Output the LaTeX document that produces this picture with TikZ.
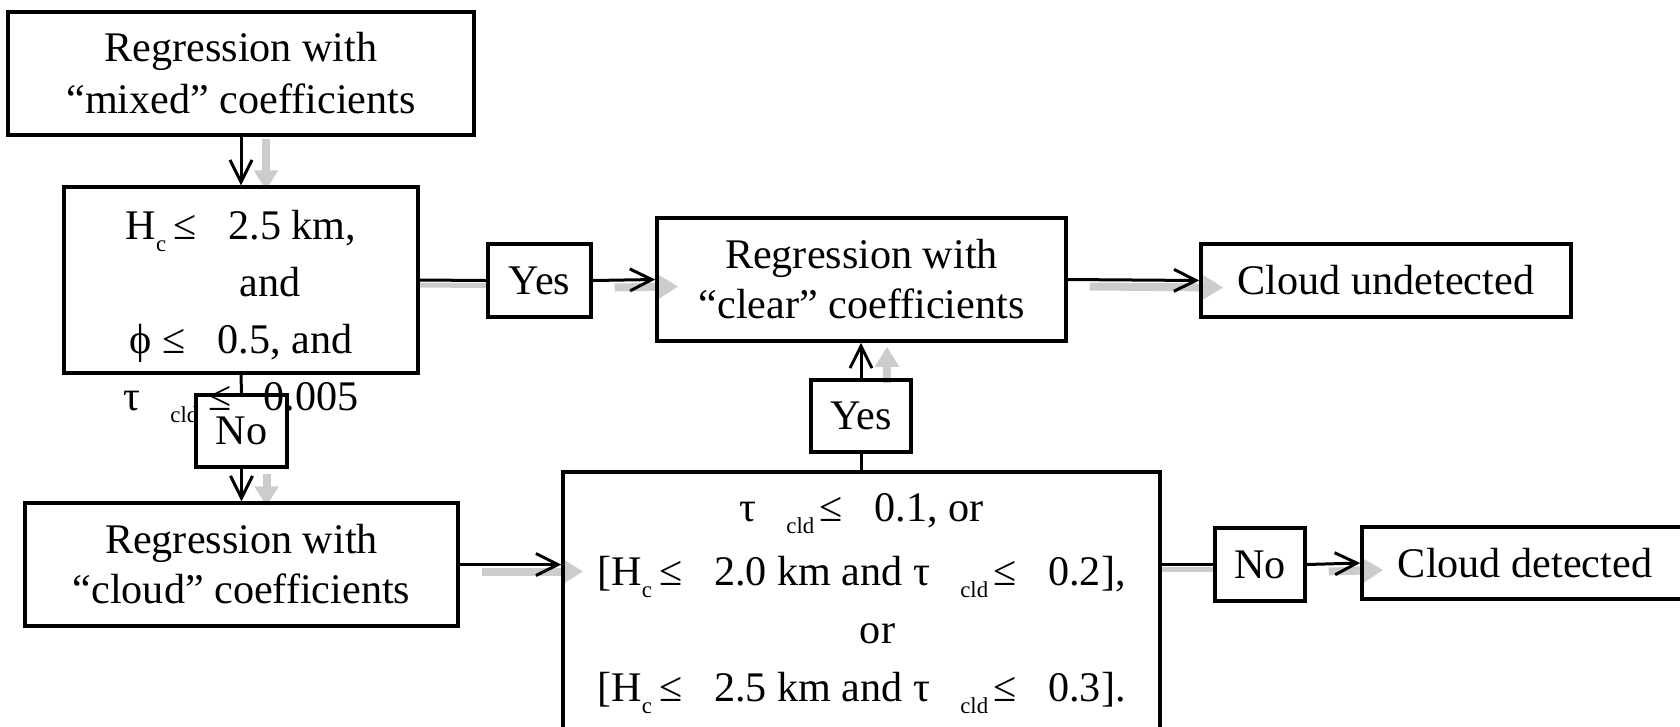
\documentclass[tikz,border=0pt]{standalone}
\usepackage{fontspec}
\setmainfont{Liberation Serif}
\usetikzlibrary{positioning,arrows.meta,backgrounds}
\definecolor{shade}{RGB}{204,204,204}
\newcommand{\lsub}[1]{\raisebox{-1.2mm}{\fontsize{6.5}{6.5}\selectfont #1}}
\newcommand{\lgap}{\hspace{3.2mm}}
\tikzset{
  box/.style={draw=black, line width=0.35mm, inner sep=0pt, align=center,
              font=\fontsize{12}{14.8}\selectfont},
  txt/.style={inner sep=0pt, align=center},
  flow/.style={-{Straight Barb[length=2.2mm,width=2.2mm]}, line width=0.3mm},
  link/.style={line width=0.3mm},
  ghost/.style={draw=shade, line width=0.8mm, -{Triangle[length=2mm,width=2.3mm]}},
  ghostline/.style={draw=shade, line width=0.5mm},
}

\begin{document}
\begin{tikzpicture}[x=0.1mm, y=-0.1mm]
\useasboundingbox (0,0) rectangle (1680,726);
\clip (0,0) rectangle (1680,726);

% left column
\node[box, minimum width=46.6mm, minimum height=12.3mm] (mixed) at (241,73.5)
  {Regression with\\ “mixed” coefficients};
\node[box, minimum width=35.4mm, minimum height=18.6mm] (cond1) at (241,280) {};
\node[txt, font=\fontsize{12}{16.2}\selectfont] (cond1txt) at (241,316.5)
  {H\lsub{c}\,≤\lgap 2.5 km,\\
   \hspace*{5.8mm}and\\
   ϕ ≤\lgap 0.5, and\\
   τ\hspace{3mm}\lsub{cld}\hspace{1mm}≤\lgap 0.005};
\node[box, minimum width=9.1mm, minimum height=7.2mm] (noA) at (241.5,431) {No};
\node[box, minimum width=43.3mm, minimum height=12.3mm,
      font=\fontsize{12}{14.2}\selectfont] (cloudreg) at (241.5,564.5)
  {Regression with\\ “cloud” coefficients};

% middle
\node[box, minimum width=10.3mm, minimum height=7.3mm] (yesA) at (539.5,280.5) {Yes};
\node[box, minimum width=40.9mm, minimum height=12.3mm,
      font=\fontsize{12}{14.2}\selectfont] (clearreg) at (861.5,279.5)
  {Regression with\\ “clear” coefficients};
\node[box, minimum width=10mm, minimum height=7.2mm] (yesB) at (861,416) {Yes};
\node[box, minimum width=59.7mm, minimum height=26.4mm,
      font=\fontsize{12}{16.5}\selectfont] (cond3) at (861.5,604)
  {τ\hspace{3mm}\lsub{cld}\hspace{0.5mm}≤\lgap 0.1, or\\[0.6mm]
   {[}H\lsub{c}\,≤\lgap 2.0 km and τ\hspace{3mm}\lsub{cld}\hspace{0.5mm}≤\lgap 0.2],\\
   \hspace*{3.2mm}or\\
   {[}H\lsub{c}\,≤\lgap 2.5 km and τ\hspace{3mm}\lsub{cld}\hspace{0.5mm}≤\lgap 0.3].};

% right column
\node[box, minimum width=37mm, minimum height=7.3mm] (undet) at (1386,280.5) {Cloud undetected};
\node[box, minimum width=9mm, minimum height=7.3mm] (noB) at (1260,564.5) {No};
\node[box, minimum width=32.6mm, minimum height=7.2mm] (det) at (1525,563) {Cloud detected};

% connectors
\draw[flow] (mixed.south) -- (cond1.north);
\draw[link] (cond1.south) -- (noA.north);
\draw[flow] (noA.south) -- (cloudreg.north);
\draw[link] (cond1.east) -- (yesA.west);
\draw[flow] (yesA.east) -- (clearreg.west);
\draw[flow] (clearreg.east) -- (undet.west);
\draw[link] (yesB.south) -- (yesB.south |- cond3.north);
\draw[flow] (yesB.north) -- (yesB.north |- clearreg.south);
\draw[flow] (cloudreg.east) -- (cloudreg.east -| cond3.west);
\draw[link] (cond3.east |- noB.west) -- (noB.west);
\draw[flow] (noB.east) -- (det.west);

% grey shadows
\begin{scope}[on background layer]
  \draw[ghost] ([xshift=2.5mm,yshift=-0.2mm]mixed.south) -- ([xshift=2.5mm,yshift=-0.5mm]cond1.north);
  \draw[ghost] ([xshift=2.5mm,yshift=-0.5mm]noA.south) -- ([xshift=2.5mm,yshift=-0.5mm]cloudreg.north);
  \draw[ghost] ([xshift=2.6mm,yshift=-0.5mm]yesB.north) -- ([xshift=2.6mm,yshift=-0.4mm]yesB.north |- clearreg.south);
  \draw[ghostline] ([yshift=-0.5mm]cond1.east) -- ([yshift=-0.5mm]yesA.west);
  \draw[ghost] ([xshift=2.2mm,yshift=-0.7mm]yesA.east) -- ([xshift=2.3mm,yshift=-0.7mm]clearreg.west);
  \draw[ghost] ([xshift=2.2mm,yshift=-0.7mm]clearreg.east) -- ([xshift=2.4mm,yshift=-0.7mm]undet.west);
  \draw[ghost] ([xshift=2.2mm,yshift=-0.7mm]cloudreg.east) -- ([xshift=2.2mm,yshift=-0.7mm]cloudreg.east -| cond3.west);
  \draw[ghostline] ([yshift=-0.5mm]cond3.east |- noB.west) -- ([yshift=-0.5mm]noB.west);
  \draw[ghost] ([xshift=2.2mm,yshift=-0.7mm]noB.east) -- ([xshift=2.3mm,yshift=-0.7mm]det.west);
\end{scope}
\end{tikzpicture}
\end{document}
